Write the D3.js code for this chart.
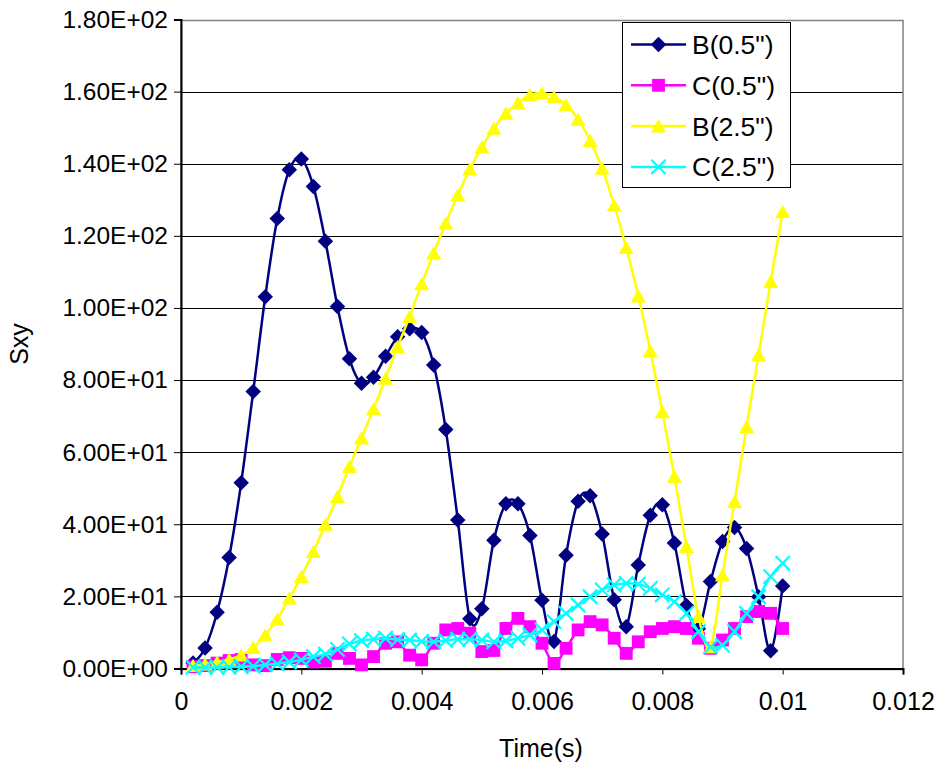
<!DOCTYPE html>
<html>
<head>
<meta charset="utf-8">
<script src="https://cdn.jsdelivr.net/npm/d3@7"></script>
<style>
  html, body { margin: 0; padding: 0; background: #fff; }
  svg { display: block; }
  text { font-family: "Liberation Sans", Arial, sans-serif; fill: #000; }
</style>
</head>
<body>
<svg id="chart" width="939" height="772"></svg>
<script>
// ---- data ----
const times = [0.0002,0.0004,0.0006,0.0008,0.0010,0.0012,0.0014,0.0016,0.0018,0.0020,
               0.0022,0.0024,0.0026,0.0028,0.0030,0.0032,0.0034,0.0036,0.0038,0.0040,
               0.0042,0.0044,0.0046,0.0048,0.0050,0.0052,0.0054,0.0056,0.0058,0.0060,
               0.0062,0.0064,0.0066,0.0068,0.0070,0.0072,0.0074,0.0076,0.0078,0.0080,
               0.0082,0.0084,0.0086,0.0088,0.0090,0.0092,0.0094,0.0096,0.0098,0.0100];
const b05 = [1.5,5.7,15.6,30.8,51.5,76.8,103.1,124.8,138.3,141.3,
             133.7,118.5,100.4,85.9,79.1,80.8,86.6,92.0,94.2,93.2,
             84.2,66.3,41.2,13.8,16.6,35.6,45.7,45.7,36.9,18.9,
             7.5,31.4,46.4,47.9,37.3,19.1,11.6,28.7,42.5,45.4,
             34.8,17.5,11.0,24.1,35.2,39.1,33.3,19.9,4.9,22.9];
const c05 = [0.5,0.8,1.5,2.2,2.5,1.0,0.8,2.5,3.0,2.8,
             1.8,2.0,4.2,2.8,1.0,3.3,7.0,7.4,3.7,2.4,
             7.0,10.7,11.1,9.8,4.7,5.0,11.1,13.9,11.6,7.0,
             1.4,5.6,10.7,13.0,12.1,8.4,4.2,7.4,10.2,11.1,
             11.6,11.1,8.4,5.6,7.9,11.1,14.4,15.8,15.3,11.1];
const b25 = [0.8,1.2,1.8,2.5,3.7,5.8,9.3,13.7,19.5,25.5,
             32.4,40.0,47.7,56.0,63.9,72.0,80.5,89.3,97.6,106.7,
             115.2,123.5,131.3,138.5,144.6,149.8,154.0,156.9,159.1,159.6,
             158.6,156.3,152.3,146.4,138.7,128.5,116.7,103.3,88.1,71.2,
             53.2,33.8,14.4,6.0,25.9,46.3,67.1,87.0,107.3,126.7];
const c25 = [0.3,0.3,0.3,0.4,0.5,0.6,1.0,1.3,1.8,2.4,
             3.3,4.0,5.3,6.8,7.7,8.1,8.4,8.0,7.9,7.5,
             7.4,7.8,8.1,8.1,7.9,7.4,7.7,8.4,9.3,10.7,
             13.0,15.3,17.6,19.9,21.8,23.2,23.6,23.4,22.2,20.4,
             18.5,15.3,10.2,6.0,6.5,10.2,15.3,19.9,25.5,29.2];
const seriesNames = ['B(0.5")', 'C(0.5")', 'B(2.5")', 'C(2.5")'];
const xTicks = [0, 0.002, 0.004, 0.006, 0.008, 0.01, 0.012];
const yTicks = [0, 20, 40, 60, 80, 100, 120, 140, 160, 180];
const xLabel = "Time(s)";
const yLabel = "Sxy";

// ---- layout ----
const svg = d3.select("#chart");
const L = 181, R = 903, T = 19.5, B = 668.5;
const x = d3.scaleLinear().domain([0, 0.012]).range([L, R]);
const y = d3.scaleLinear().domain([0, 180]).range([B, T]);

const styles = [
  {color: "#000080", shape: "diamond", width: 2.5},
  {color: "#FF00FF", shape: "square", width: 2.5},
  {color: "#FFFF00", shape: "triangle", width: 2.5},
  {color: "#00FFFF", shape: "x", width: 2.5}
];
const seriesVals = [b05, c05, b25, c25];

// gridlines
svg.append("g").selectAll("line").data(yTicks.filter(d => d > 0)).join("line")
  .attr("x1", L).attr("x2", R)
  .attr("y1", d => Math.round(y(d)) + 0.5).attr("y2", d => Math.round(y(d)) + 0.5)
  .attr("stroke", "#000").attr("stroke-width", 1);

// plot border
svg.append("rect").attr("x", L).attr("y", Math.round(T) + 0.5)
  .attr("width", R - L).attr("height", B - T)
  .attr("fill", "none").attr("stroke", "#808080").attr("stroke-width", 1.5);

// axes
const fmtY = d => {
  if (d === 0) return "0.00E+00";
  const e = Math.floor(Math.log10(d));
  const m = d / Math.pow(10, e);
  return m.toFixed(2) + "E+" + String(e).padStart(2, "0");
};
const yAxis = d3.axisLeft(y).tickValues(yTicks).tickFormat(fmtY).tickSize(7).tickPadding(6);
const gy = svg.append("g").attr("transform", `translate(${L},0)`).call(yAxis);
gy.select(".domain").attr("stroke", "#000").attr("stroke-width", 2);
gy.selectAll(".tick line").attr("stroke", "#000").attr("stroke-width", 1);
gy.selectAll(".tick text").attr("font-size", 24.5).attr("font-family", "Liberation Sans, Arial, sans-serif").attr("fill", "#000");

const xAxis = d3.axisBottom(x).tickValues(xTicks).tickFormat(d => d3.format("~g")(d)).tickSize(6).tickPadding(18);
const gx = svg.append("g").attr("transform", `translate(0,${B})`).call(xAxis);
gx.select(".domain").attr("stroke", "#000").attr("stroke-width", 2);
gx.selectAll(".tick line").attr("stroke", "#000").attr("stroke-width", 1);
gx.selectAll(".tick text").attr("font-size", 25).attr("font-family", "Liberation Sans, Arial, sans-serif").attr("fill", "#000");

svg.append("text").attr("x", (L + R) / 2 - 1).attr("y", 757)
  .attr("text-anchor", "middle").attr("font-size", 25).text(xLabel);
svg.append("text").attr("transform", `translate(28,${(T + B) / 2}) rotate(-90)`)
  .attr("text-anchor", "middle").attr("font-size", 25).text(yLabel);

// markers
function markerPath(shape) {
  if (shape === "diamond") return d3.symbol(d3.symbolSquare, 120)();
  if (shape === "square") return d3.symbol(d3.symbolSquare, 165)();
  if (shape === "triangle") return d3.symbol(d3.symbolTriangle, 100)();
  return d3.symbol(d3.symbolTimes || d3.symbolCross, 135)();
}
function markerTransform(shape) {
  if (shape === "diamond") return " rotate(45)";
  if (shape === "triangle") return " translate(0,2)";
  return "";
}

const line = d3.line().x(d => x(d[0])).y(d => y(d[1])).curve(d3.curveCardinal.tension(0));

seriesVals.forEach((vals, i) => {
  const st = styles[i];
  const pts = times.map((t, j) => [t, vals[j]]);
  const g = svg.append("g");
  g.append("path").datum(pts).attr("d", line)
    .attr("fill", "none").attr("stroke", st.color).attr("stroke-width", st.width)
    .attr("stroke-linejoin", "round");
  const mk = g.append("g").selectAll("path").data(pts).join("path")
    .attr("d", markerPath(st.shape))
    .attr("transform", d => `translate(${x(d[0])},${y(d[1])})` + markerTransform(st.shape));
  if (st.shape === "x") mk.attr("fill", "none").attr("stroke", st.color).attr("stroke-width", 2.2);
  else mk.attr("fill", st.color);
});

// legend
const lg = svg.append("g");
lg.append("rect").attr("x", 622.5).attr("y", 22.5).attr("width", 168).attr("height", 165)
  .attr("fill", "#fff").attr("stroke", "#000").attr("stroke-width", 1);
seriesNames.forEach((name, i) => {
  const st = styles[i];
  const cy = 44.5 + i * 40.8;
  lg.append("line").attr("x1", 631).attr("x2", 686).attr("y1", cy).attr("y2", cy)
    .attr("stroke", st.color).attr("stroke-width", 2.5);
  const m = lg.append("path").attr("d", markerPath(st.shape))
    .attr("transform", `translate(658.5,${cy})` + markerTransform(st.shape));
  if (st.shape === "x") m.attr("fill", "none").attr("stroke", st.color).attr("stroke-width", 2.2);
  else m.attr("fill", st.color);
  lg.append("text").attr("x", 692).attr("y", cy + 9.5).attr("font-size", 26.5).text(name);
});
</script>
</body>
</html>
